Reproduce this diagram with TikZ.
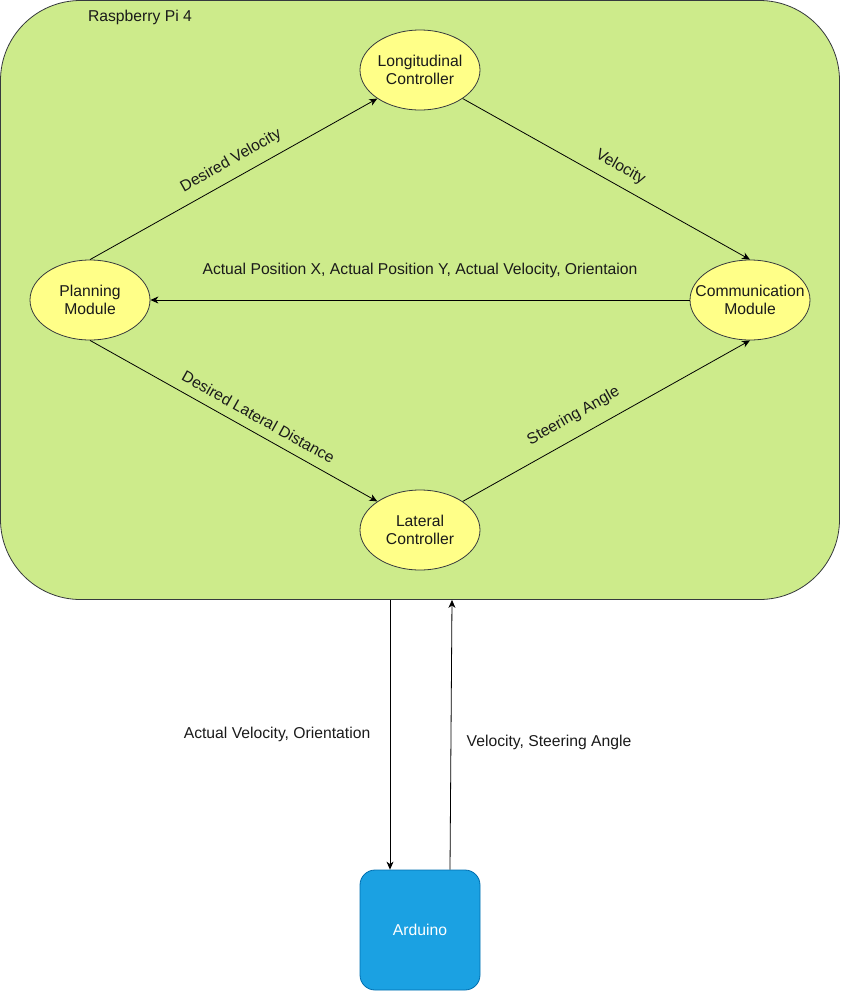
\documentclass[tikz,border=0pt]{standalone}
\usepackage{fontspec}
\setmainfont{Liberation Sans}
\usepackage{tikz}
\usetikzlibrary{arrows.meta,shapes.geometric}
\definecolor{pigreen}{HTML}{CDEB8B}
\definecolor{ctrlyellow}{HTML}{FFFF88}
\definecolor{darkline}{HTML}{36393D}
\definecolor{ardblue}{HTML}{1BA1E2}
\definecolor{ardline}{HTML}{006EAF}
\definecolor{txtgray}{HTML}{1A1A1A}

\begin{document}
\begin{tikzpicture}[x=1pt, y=-1pt,
  font=\fontsize{15.7}{18}\selectfont, text=txtgray,
  module/.style={ellipse, draw=darkline, fill=ctrlyellow, line width=0.8pt,
    minimum width=120pt, minimum height=80pt, inner sep=0pt, align=center},
  link/.style={-{Stealth[length=8pt,width=7pt,inset=2.5pt]}, line width=0.8pt},
  lbl/.style={sloped, above=6pt}]

\useasboundingbox (0,0) rectangle (841,991);

\node (pi) at (420,300) [draw=darkline, fill=pigreen, line width=0.8pt, rounded corners=80pt,
  minimum width=839pt, minimum height=599pt] {};
\node (pilabel) at (140,17) {Raspberry Pi 4};

\node (lon) at (420,70) [module] {Longitudinal\\Controller};
\node (plan) at (90,300) [module] {Planning\\Module};
\node (comm) at (750,300) [module, inner xsep=-16pt] {Communication\\Module};
\node (lat) at (420,530) [module] {Lateral\\Controller};

\node (ard) at (420,930) [draw=ardline, fill=ardblue, line width=0.8pt, rounded corners=15pt,
  minimum width=120pt, minimum height=120pt, text=white] {Arduino};

\draw[link] (plan.north) -- node[lbl, pos=0.52] {Desired Velocity} (lon.south west);
\draw[link] (lon.south east) -- node[lbl, pos=0.52] {Velocity} (comm.north);
\draw[link] (comm.west) -- node[above=19pt] {Actual Position X, Actual Position Y, Actual Velocity, Orientaion} (plan.east);
\draw[link] (plan.south) -- node[lbl, pos=0.56] {Desired Lateral Distance} (lat.north west);
\draw[link] (lat.north east) -- node[lbl, above=3pt, pos=0.42] {Steering Angle} (comm.south);

\draw[link] ([xshift=-30pt]pi.south) -- node[left=16pt] {Actual Velocity, Orientation} ([xshift=-30pt]ard.north);
\draw[link] ([xshift=30pt]ard.north) -- node[right=12pt, yshift=-8pt] {Velocity, Steering Angle} ([xshift=32pt]pi.south);

\end{tikzpicture}
\end{document}
